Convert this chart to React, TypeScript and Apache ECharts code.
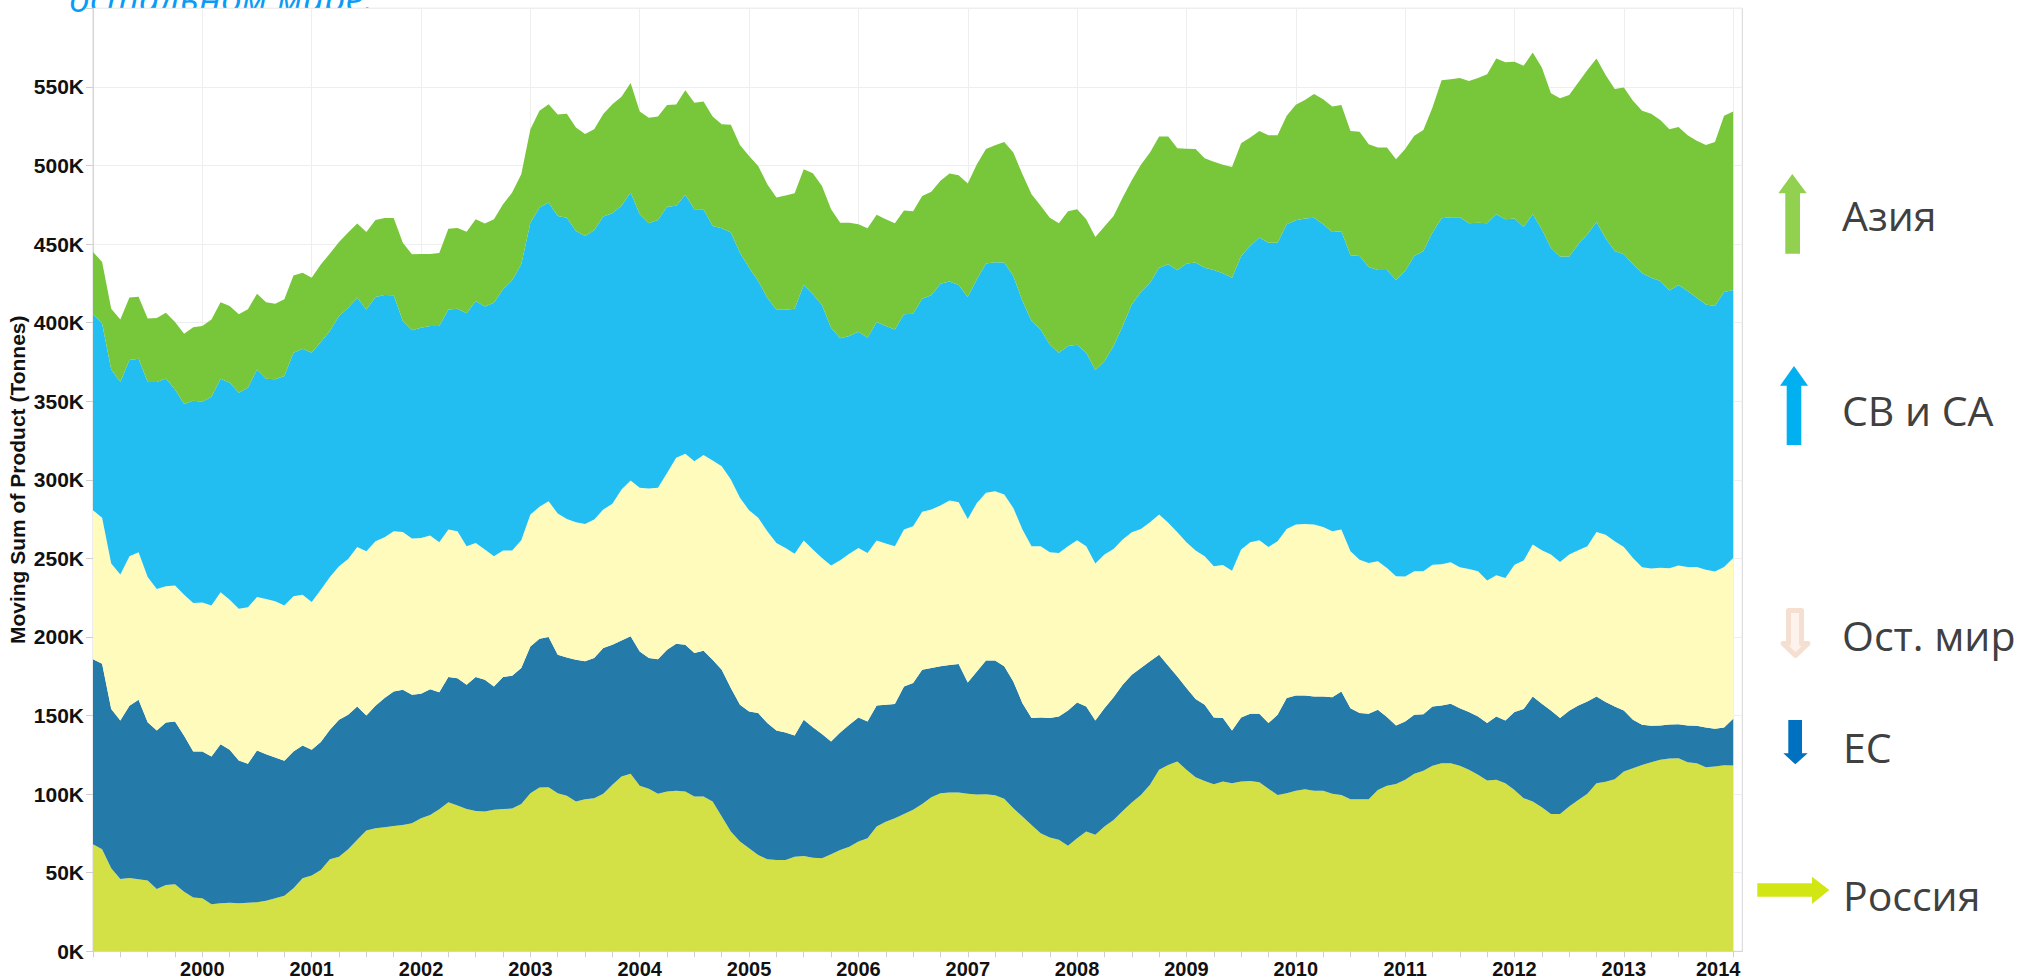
import React, { useEffect, useRef } from "react";
import * as echarts from "echarts";

// Upper edge of each stacked band, month by month from 1999-01 to 2014-01, thousands of tonnes
const russiaTop = [68.1,65,52.8,46,46.7,45.8,45,39.7,42.2,42.6,37.9,34.3,33.7,29.9,30.5,30.9,30.5,30.9,31.2,32.2,33.7,35.4,40.1,46.5,48.2,51.8,58.6,60.2,65,70.9,76.8,78.3,78.9,79.8,80.4,81.5,84.7,86.8,90.4,94.9,92.7,90.6,89.3,88.9,90,90.6,90.8,93.8,100.6,104.2,104.4,100.6,98.9,95.3,96.8,97.4,100.2,105.9,111.2,112.9,105.3,103.4,100.2,101.7,102.1,101.7,98.5,98.5,95.3,85.7,76.2,69.8,65.6,61.3,58.6,58.1,58.1,60.2,60.7,59.6,59.2,61.7,64.5,66.6,69.8,71.9,79.4,82.5,84.7,87.4,90,93.8,98,100.6,101,101,100.2,99.7,100,99.3,97,91,85.7,80.4,75.1,72.4,70.9,67.1,71.9,76.2,74.1,79.4,83.6,89.3,94.6,99.5,105.9,115.5,118.6,120.8,115.5,110.8,108.4,106.3,108,106.9,108,108.4,107.6,103.4,99.5,100.6,102.1,103.1,102.1,102.1,100.2,99.5,96.8,96.8,96.8,102.7,105.3,106.5,109.1,112.9,114.8,118,119.7,119.7,118,115.5,112.3,108.7,109.1,106.9,102.7,97.4,95.3,91.7,87.4,87.4,92.1,96.3,100.2,106.9,107.8,109.5,114.4,116.5,118.6,120.3,121.8,122.7,122.9,120.3,119.7,117.1,117.6,118.4,118.2];
const euTop = [185.9,183,154.1,146.9,156.2,160,145.8,140.5,145.6,146.2,137.1,127.1,127.1,123.9,131.8,128.2,121.4,119.3,127.8,125.4,123.3,121.2,127.1,131,128.2,133.1,140.9,147.3,150.5,155.8,150.1,156.2,161.1,165.3,166.4,163.2,163.9,166.8,164.9,174.5,173.8,169.6,174.5,172.8,168.5,174.5,175.3,180.2,194,198.9,200,188.7,187,185.5,184.5,186.6,193,195.1,197.8,200.4,190.8,186.6,185.9,191.9,195.7,195.1,189.8,191.3,185.5,179.2,167.5,156.9,152.6,151.6,145.2,140.5,139.2,137.3,147.3,142.6,138.2,133.5,139.2,144.1,148.8,146.2,156.4,156.9,157.3,168.5,170.7,179.2,180.2,181.3,182.1,182.8,171.1,178.1,185.1,185.1,181.3,171.7,157.9,148.4,148.8,148.4,149.4,153.2,158.3,155.8,146.9,154.7,161.7,169.6,176,180.2,184.5,188.7,181.7,174.9,167.5,160.5,156.9,148.8,148.4,140.5,148.8,151.1,151.1,145.2,150.5,161.1,162.8,162.8,162.2,162.2,161.7,165.3,154.7,151.6,151.1,153.7,149,143.7,146.2,150.5,150.9,155.8,156.4,157.5,154.7,152.2,149.4,145.2,149.4,146.9,152.2,154.1,162.2,157.5,153.2,148.4,153,156.4,159,162.2,158.6,155.8,153.2,147.3,144.1,143.5,143.7,144.3,144.5,143.7,143.5,142.4,141.6,142.4,147.9];
const restTop = [280.6,275.8,246.7,239.7,251.3,253.9,238.2,230.5,232.2,232.7,226.9,221.6,222,220.1,228.4,223.7,218,218.9,225.4,224.2,222.7,220.1,225.9,226.9,222.3,230.1,238.2,245,249.6,257.3,254.5,260.9,263.4,267.3,266.8,262.6,263,264.5,260.3,268.3,267.3,257.7,259.8,255.6,251.3,255,255,261.5,277.9,282.8,286.4,278.5,275.1,273,271.9,274.7,281.1,284.7,293.8,299.5,294.9,294.4,294.9,304.4,314,316.5,311.8,315.7,312.3,308.7,300.2,288.5,280.6,275.8,267.3,259.8,256.6,253,261.3,255.6,250.3,245.4,248.8,253,256.6,253.5,261.3,259.4,257.7,268.3,270.4,279.6,281.1,283.6,286.8,285.7,275.1,285.3,291.7,292.7,290.6,282.1,268.3,257.7,257.7,253.9,253.5,257.7,261.5,257.7,246.7,252.4,256,262,266.6,268.7,273,277.9,272.6,266.6,260.3,255,251.3,245,245.8,242.2,255.6,260.3,261.5,257.3,260.9,268.7,271.5,271.9,271.5,270,267.3,268.3,254.5,249.2,247.1,248.2,243.9,238.6,238.4,241.8,241.8,246,246.2,247.5,244.3,243.3,241.8,236,239.2,237.5,246,248.6,258.8,255.2,252.4,247.7,252.4,255.2,257.7,266.8,265.1,260.9,257.3,250.3,244.3,243.5,244.1,243.7,245.4,244.5,244.5,242.8,241.6,244.5,250.3];
const americasTop = [405.3,399.5,370.2,362.2,376.2,377,362.2,362.2,364.5,357.5,348.2,350.3,349.6,352.8,364.3,361.7,355.4,358.6,370.2,364.3,363.9,366,380.8,383.4,380.8,387.6,394.6,404.2,409.5,415.9,408.4,416.3,417.6,417.4,401,395.1,396.8,397.8,397.8,408.4,408.9,405.9,413.8,410.2,412.7,421.2,426.9,437.1,463.6,473.2,476.4,467.9,466.8,458.3,455.2,458.8,467.5,469.6,474.3,482.8,468.9,463.2,465.3,473.8,474.3,481.3,472.1,472.1,461.5,460,457.3,444.5,435,426.5,415.9,408.2,408.2,408.9,423.9,418,411.2,396.8,390,391.5,394.2,390.4,400.4,397.8,395.7,405.3,405.7,415.2,417.4,424.8,426.1,423.9,416.3,427.6,437.7,438.4,438.2,429.7,413.8,401,395.7,386.1,380.8,385.1,385.9,380.8,369.8,375.5,385.1,397.8,411.6,419.5,425.4,435,437.1,433.3,437.7,438.2,435,433.5,431.4,428.6,442.4,448.8,454.1,450.9,450.9,462.6,465.1,466.2,466.8,462.6,457.7,458.1,442.8,442.4,435.4,433.5,433.5,427.1,432.9,442.4,445.6,457.3,466.4,467,467,463.2,463.6,463.2,469,465.8,466.2,460.9,469,459.4,447.7,442,442,449.8,456.2,464.1,453.7,445.6,443.5,437.1,431.4,428.6,426.5,420.5,423.9,420.1,415.9,411.6,410.6,419.5,420.8];
const asiaTop = [445,438.6,408.9,402,416,416.5,402.7,403,406.3,400.4,393,397,397.8,402,413,410.6,405.3,408.5,418.4,413,412,414.8,430,431.8,428.6,437,444,451.3,457.3,463,457.7,465.3,466.6,466.6,450.9,443.5,443.7,443.7,444.3,459.8,460.2,457.9,465.8,463,465.8,475.3,482.8,494.4,523,534.8,539,532.4,532.9,524.2,520.1,523,532.7,539,543.7,552.4,534.3,530.3,531.2,538.4,538.8,547.9,539.9,540.7,531.2,526.3,525.9,513.1,506.1,499.7,488.1,479.6,480.9,482.3,497.6,495.1,487,472.1,463.6,463.6,462.6,460,468.7,465.8,463.2,471.3,470.9,480.6,483.2,490.2,494.9,493.8,488.5,500.8,510.4,512.9,515,508.2,494.4,481.7,474.3,466.8,463.2,470.9,472.1,465.8,454.5,461.1,467.9,479.6,490.6,500.4,508.2,518.4,518.4,511,510.6,510.4,504.6,502.3,500.4,499.1,514.2,517.8,522,519.3,519.3,531.6,538.6,541.6,545.4,542.2,537.5,538.4,522,521.4,513.5,511.4,511.4,504,510.4,518.9,522.5,536.9,554.3,554.9,555.6,553.7,555.6,558.1,568.1,565.6,566,563.4,571.9,562.4,546,542.8,544.8,552.8,560.7,568.1,557.5,548.6,549.6,541.1,534.8,532.9,529,523.1,524.4,519.3,515.7,513.1,515,531.6,534.3];

const bandNames = ["Россия", "ЕС", "Ост. мир", "СВ и СА", "Азия"];
const bandTops = [russiaTop, euTop, restTop, americasTop, asiaTop];
const bandColors = ["#d4e146", "#247aa8", "#fefbbd", "#22bef2", "#78c639"];

const firstYear = 1999;
const lastLabelYear = 2014;
const titleText = "остальном мире.";
const axisTitle = "Moving Sum of Product (Tonnes)";

// One extra month after the last value, so the axis runs on slightly past the data
const months = Array.from({ length: russiaTop.length + 1 }, (_, i) => {
  const y = firstYear + Math.floor(i / 12);
  return `${y}-${String((i % 12) + 1).padStart(2, "0")}`;
});

type Key = { label: string; color: string; stroke?: string; textX: number; textY: number; points: number[][] };
const keyItems: Key[] = [
  { label: "Азия", color: "#92d050", textX: 1842, textY: 215,
    points: [[1792.3,174],[1806.7,193.3],[1800,193.3],[1800,253.7],[1785.3,253.7],[1785.3,193.3],[1778.3,193.3]] },
  { label: "СВ и СА", color: "#00b0f0", textX: 1842, textY: 410,
    points: [[1794,366],[1808,385.7],[1801.3,385.7],[1801.3,445],[1786.7,445],[1786.7,385.7],[1780,385.7]] },
  { label: "Ост. мир", color: "#fdf3ec", stroke: "#f4dfd0", textX: 1842, textY: 635,
    points: [[1788.5,610.5],[1801.5,610.5],[1801.5,643.5],[1808,643.5],[1795.5,655.5],[1783,643.5],[1788.5,643.5]] },
  { label: "ЕС", color: "#0070c0", textX: 1843, textY: 747,
    points: [[1788.3,720],[1802,720],[1802,753.3],[1807.7,753.3],[1795.3,764.3],[1783.3,753.3],[1788.3,753.3]] },
  { label: "Россия", color: "#d2e614", textX: 1843, textY: 895,
    points: [[1757.3,883.3],[1812,883.3],[1812,876.7],[1829.3,890],[1812,904],[1812,896.7],[1757.3,896.7]] },
];

const isJanuary = (i: number) => i % 12 === 0;

export default function App() {
  const ref = useRef<HTMLDivElement>(null);
  useEffect(() => {
    if (!ref.current) return;
    const chart = echarts.init(ref.current, undefined, { renderer: "svg" });
    const series = bandTops.map((tops, b) => ({
      name: bandNames[b],
      type: "line",
      stack: "total",
      symbol: "none",
      lineStyle: { width: 0 },
      areaStyle: { color: bandColors[b], opacity: 1 },
      itemStyle: { color: bandColors[b] },
      data: tops.map((t, i) => (b === 0 ? t : +(t - bandTops[b - 1][i]).toFixed(1))),
    }));
    chart.setOption({
      animation: false,
      backgroundColor: "#ffffff",
      grid: {
        left: 93, top: 8.3, width: 1649.3, height: 943,
        outerBoundsMode: "none",
        show: true, borderColor: "#d6d6d6", borderWidth: 1, backgroundColor: "#ffffff",
      },
      xAxis: {
        type: "category",
        boundaryGap: false,
        data: months,
        axisLine: { show: true, lineStyle: { color: "#d6d6d6" } },
        axisTick: { show: true, length: 6, interval: (i: number) => i % 3 === 0, lineStyle: { color: "#cfcfcf" } },
        splitLine: { show: true, interval: (i: number) => isJanuary(i), lineStyle: { color: "#eeeeee", width: 1 } },
        axisLabel: {
          margin: 8,
          color: "#111111",
          fontFamily: "Liberation Sans",
          fontWeight: "bold",
          fontSize: 20,
          interval: (i: number) => isJanuary(i) && i > 0,
          formatter: (v: string) => {
            const y = Number(v.slice(0, 4));
            return y === lastLabelYear ? `{last|${y}}` : String(y);
          },
          rich: {
            last: {
              color: "#111111", fontFamily: "Liberation Sans", fontWeight: "bold", fontSize: 20,
              padding: [0, 30, 0, 0],
            },
          },
        },
      },
      yAxis: {
        type: "value",
        min: 0,
        max: 600,
        interval: 50,
        name: axisTitle,
        nameLocation: "middle",
        nameGap: 65,
        nameMoveOverlap: false,
        nameTextStyle: { color: "#111111", fontFamily: "Liberation Sans", fontWeight: "bold", fontSize: 21 },
        axisLine: { show: true, lineStyle: { color: "#d6d6d6" } },
        axisTick: { show: true, length: 7, lineStyle: { color: "#cfcfcf" } },
        splitLine: { show: true, lineStyle: { color: "#eeeeee", width: 1 } },
        axisLabel: {
          margin: 9,
          color: "#111111",
          fontFamily: "Liberation Sans",
          fontWeight: "bold",
          fontSize: 21,
          formatter: (v: number) => (v >= 600 ? "" : `${v}K`),
        },
      },
      series,
      graphic: [
        {
          type: "text", x: 69, y: -21, z: -1,
          style: {
            text: titleText, fill: "#0a9bf5", fontFamily: "Open Sans", fontStyle: "italic",
            fontSize: 37,
          },
        },
        ...keyItems.flatMap((k) => [
          {
            type: "polygon", z: 20,
            shape: { points: k.points },
            style: { fill: k.color, stroke: k.stroke ?? k.color, lineWidth: k.stroke ? 5 : 0, lineJoin: "round" },
          },
          {
            type: "text", x: k.textX, y: k.textY, z: 20,
            style: {
              text: k.label, fill: "#404040", fontFamily: "Open Sans", fontSize: 41,
              verticalAlign: "middle", align: "left",
            },
          },
        ]),
      ],
    });
    return () => chart.dispose();
  }, []);
  return <div ref={ref} style={{ position: "fixed", left: 0, top: 0, width: 2020, height: 980 }} />;
}
